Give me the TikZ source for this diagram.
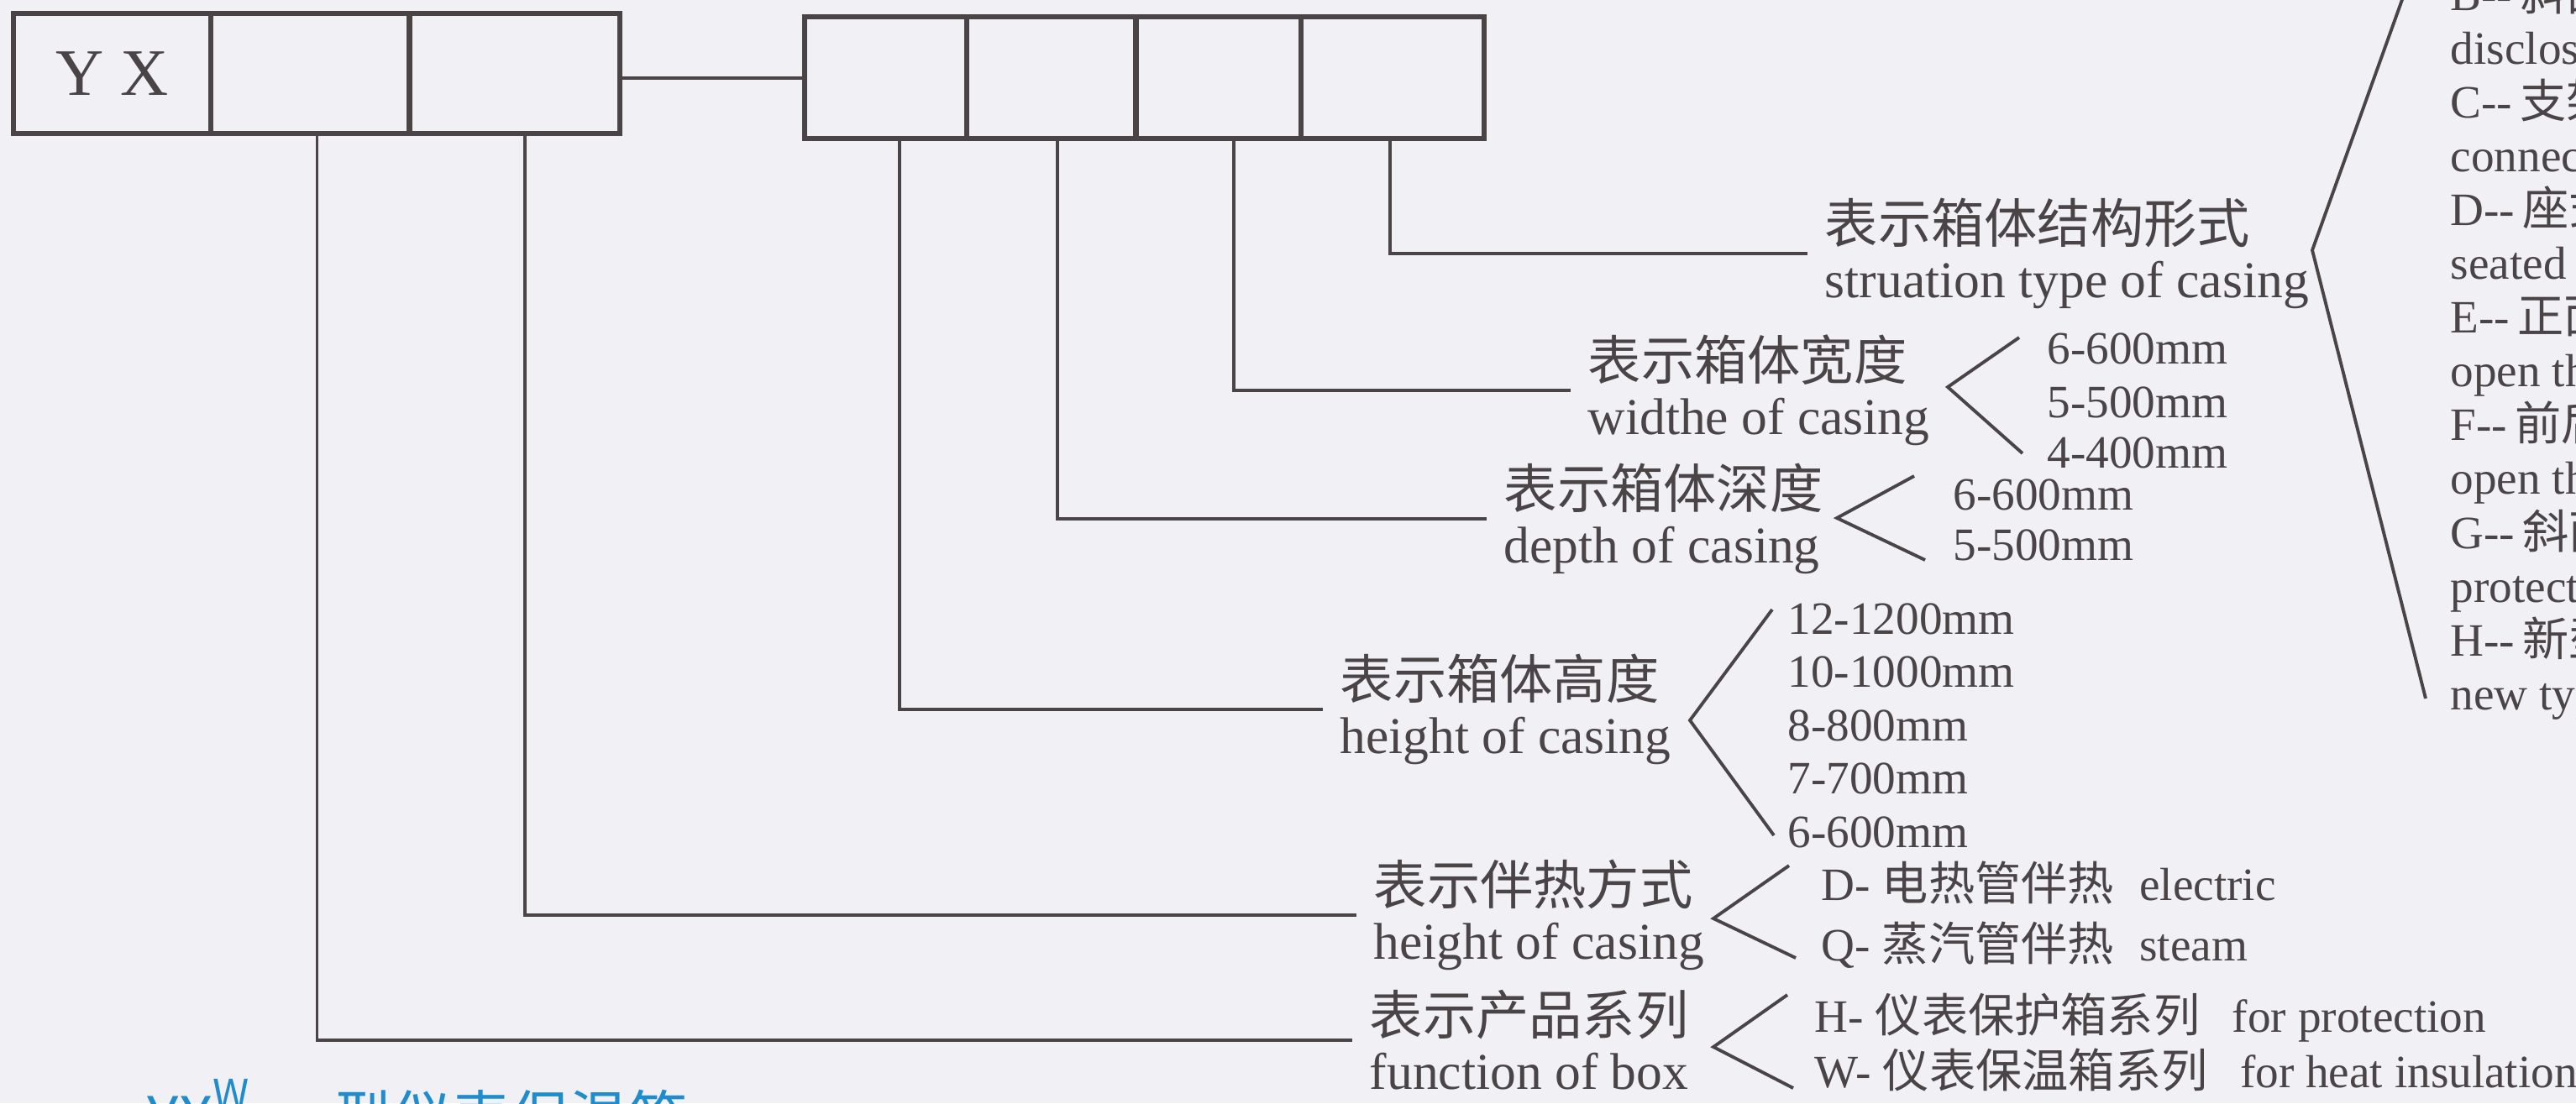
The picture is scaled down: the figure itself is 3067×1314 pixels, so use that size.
\documentclass[tikz,border=0pt]{standalone}
\usepackage{fontspec}
\setmainfont{Liberation Serif}[Ligatures=TeXOff]
\newfontfamily\cjk{Noto Sans CJK SC}
\usetikzlibrary{positioning,calc}

\definecolor{inkgray}{RGB}{74,68,70}
\definecolor{paper}{RGB}{240,240,245}
\definecolor{titleblue}{RGB}{30,140,205}

\newcommand{\zh}[1]{{\cjk\fontsize{18}{18.5}\selectfont #1}}

\tikzset{
  cell/.style={draw=inkgray,line width=0.9pt,inner sep=0pt,text=inkgray},
  frame/.style={draw=inkgray,line width=1.5pt},
  lead/.style={draw=inkgray,line width=1.1pt},
  brace/.style={draw=inkgray,line width=1.1pt,line join=miter},
  desc/.style={anchor=west,align=left,inner xsep=0.2cm,inner ysep=0pt,text=inkgray,font=\fontsize{17.5}{18.5}\selectfont},
  opt/.style={anchor=base west,inner sep=0pt,text=inkgray,font=\fontsize{15.7}{18}\selectfont}
}

\begin{document}
\begin{tikzpicture}[x=0.01cm,y=-0.01cm]
\useasboundingbox (0,0) rectangle (3067,1314);
\clip (0,0) rectangle (3067,1314);
\fill[paper] (0,0) rectangle (3067,1314);

% code boxes
\node[cell,minimum width=2.32cm,minimum height=1.40cm,anchor=north west,font=\fontsize{22.5}{24}\selectfont] (yx) at (16,16) {Y X};
\node[cell,minimum width=2.33cm,minimum height=1.40cm,right=0pt of yx] (s1) {};
\node[cell,minimum width=2.47cm,minimum height=1.40cm,right=0pt of s1] (s2) {};
\draw[frame] (yx.north west) rectangle (s2.south east);

\node[cell,minimum width=1.90cm,minimum height=1.42cm,anchor=north west] (d1) at (958,20) {};
\node[cell,minimum width=1.98cm,minimum height=1.42cm,right=0pt of d1] (d2) {};
\node[cell,minimum width=1.93cm,minimum height=1.42cm,right=0pt of d2] (d3) {};
\node[cell,minimum width=2.15cm,minimum height=1.42cm,right=0pt of d3] (d4) {};
\draw[frame] (d1.north west) rectangle (d4.south east);
\draw[lead] (d1.west -| s2.east) -- (d1.west);

% descriptions
\node[desc] (fa) at (1610,1239) {\zh{表示产品系列}\\function of box};
\node[desc] (fb) at (1615,1090) {\zh{表示伴热方式}\\height of casing};
\node[desc] (fc) at (1575,845) {\zh{表示箱体高度}\\height of casing};
\node[desc] (fd) at (1770,618) {\zh{表示箱体深度}\\depth of casing};
\node[desc] (fe) at (1870,465) {\zh{表示箱体宽度}\\widthe of casing};
\node[desc] (ff) at (2152,302) {\zh{表示箱体结构形式}\\struation type of casing};

\draw[lead] ($(s1.south)+(8,0)$) |- (fa.west);
\draw[lead] ($(s2.south)+(12,0)$) |- (fb.west);
\draw[lead] ($(d1.south)+(16,0)$) |- (fc.west);
\draw[lead] ($(d2.south)+(7,0)$) |- (fd.west);
\draw[lead] ($(d3.south)+(18,0)$) |- (fe.west);
\draw[lead] ($(d4.south)+(-3,0)$) |- (ff.west);

% options
\node[opt] (w1) at (2437,433) {6-600mm};
\node[opt] (w2) at (2437,497) {5-500mm};
\node[opt] (w3) at (2437,557) {4-400mm};
\draw[brace] (2404,402) -- (2319,461) -- (2408,540);

\node[opt] (p1) at (2325,607) {6-600mm};
\node[opt] (p2) at (2325,667) {5-500mm};
\draw[brace] (2279,567) -- (2187,617) -- (2292,667);

\node[opt] (h1) at (2128,755) {12-1200mm};
\node[opt] (h2) at (2128,818) {10-1000mm};
\node[opt] (h3) at (2128,882) {8-800mm};
\node[opt] (h4) at (2128,945) {7-700mm};
\node[opt] (h5) at (2128,1009) {6-600mm};
\draw[brace] (2110,726) -- (2012,858) -- (2112,995);

\node[opt] (b1) at (2168,1072) {D- {\cjk 电热管伴热}\hspace{0.55em}electric};
\node[opt] (b2) at (2168,1144) {Q- {\cjk 蒸汽管伴热}\hspace{0.55em}steam};
\draw[brace] (2130,1031) -- (2040,1094) -- (2138,1141);

\node[opt] (a1) at (2160,1229) {H- {\cjk 仪表保护箱系列}\hspace{0.7em}for protection};
\node[opt] (a2) at (2160,1295) {W- {\cjk 仪表保温箱系列}\hspace{0.7em}for heat insulation};
\draw[brace] (2128,1185) -- (2040,1247) -- (2135,1296);

% casing types, cut by the page edge
\foreach \t [count=\i from 0] in {{B--\,{\cjk 斜面}},disclosed type,{C--\,{\cjk 支架}},connected type,{D--\,{\cjk 座式}},seated type,{E--\,{\cjk 正面}},open the door,{F--\,{\cjk 前后}},open the door,{G--\,{\cjk 斜面}},protection,{H--\,{\cjk 新型}},new type}
  \node[opt] (t\i) at (2917,{12+64.1*\i}) {\t};
\draw[brace] (2867,-20) -- (2753,298) -- (2888,832);

% title, cut by the bottom edge
\node[anchor=base west,inner sep=0pt,text=titleblue,font=\cjk\fontsize{20}{20}\selectfont] (title) at (175,1357) {YX\raisebox{0.5em}{\fontsize{14}{14}\selectfont W}\hspace{1cm}型仪表保温箱};
\end{tikzpicture}
\end{document}
